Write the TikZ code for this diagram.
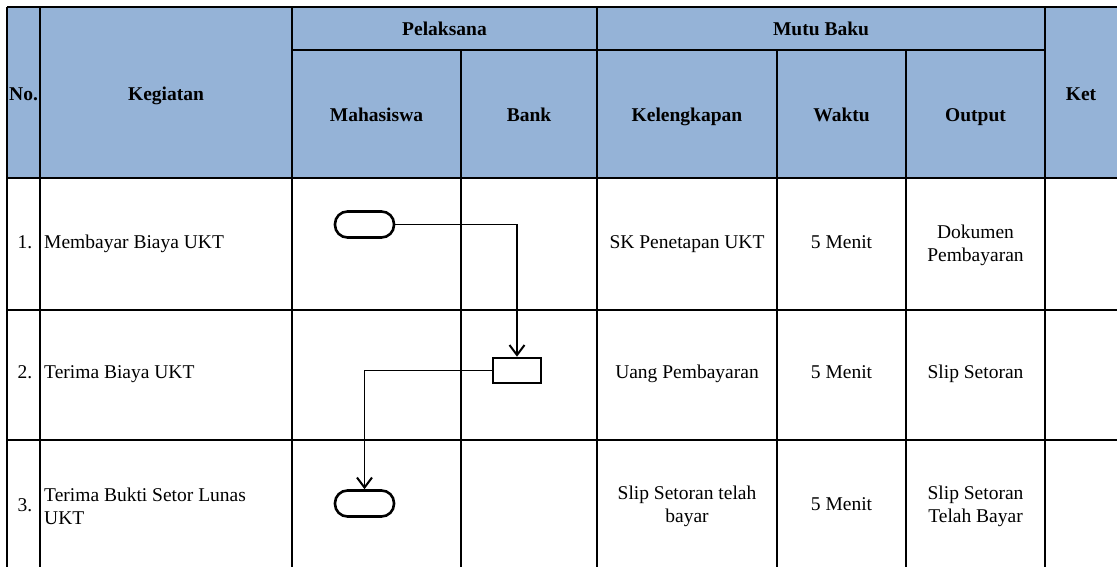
\documentclass[tikz,border=0pt]{standalone}
\usepackage{fontspec}
\setmainfont{Liberation Serif}
\usetikzlibrary{arrows.meta}
\definecolor{hdrblue}{RGB}{149,179,215}
\begin{document}
\begin{tikzpicture}[x=1pt,y=-1pt,
  grid/.style={line width=1.8pt,black},
  hdr/.style={font=\fontsize{19.5}{23}\selectfont\bfseries,align=center,inner sep=0pt,text height=13pt,text depth=4pt},
  txt/.style={font=\fontsize{19.5}{23}\selectfont,align=center,inner sep=0pt,text height=13pt,text depth=4pt},
  mtxt/.style={font=\fontsize{19.5}{23}\selectfont,align=center,inner sep=0pt},
  ltxt/.style={font=\fontsize{19.5}{23}\selectfont,align=left,anchor=west,inner sep=0pt,text height=13pt,text depth=4pt},
  mltxt/.style={font=\fontsize{19.5}{23}\selectfont,align=left,anchor=west,inner sep=0pt},
  term/.style={draw,line width=2.6pt,rounded corners=12.5pt,minimum width=59pt,minimum height=26pt,inner sep=0pt},
  proc/.style={draw,line width=2.6pt,minimum width=48pt,minimum height=25pt,inner sep=0pt},
  conn/.style={line width=1.3pt,-{Straight Barb[length=10pt,width=15pt,line width=2pt]}}]
\useasboundingbox (0,0) rectangle (1117,567);
% header fill
\fill[hdrblue] (7,7) rectangle (1117,178);
% horizontal lines
\draw[grid] (7,7) -- (1117,7);
\draw[grid] (292,50) -- (1045,50);
\draw[grid] (7,178) -- (1117,178);
\draw[grid] (7,310) -- (1117,310);
\draw[grid] (7,440) -- (1117,440);
% vertical lines
\foreach \x in {7,40,292,597,1045} \draw[grid] (\x,7) -- (\x,567);
\foreach \x in {461,777,906} \draw[grid] (\x,50) -- (\x,567);
% header texts
\node[hdr,anchor=west] (hno) at (9,96) {No.};
\node[hdr] (hkeg) at (166,96) {Kegiatan};
\node[hdr] (hpel) at (444.5,31) {Pelaksana};
\node[hdr] (hmutu) at (821,31) {Mutu Baku};
\node[hdr] (hmhs) at (376.5,117) {Mahasiswa};
\node[hdr] (hbank) at (529,117) {Bank};
\node[hdr] (hkel) at (687,117) {Kelengkapan};
\node[hdr] (hwak) at (841.5,117) {Waktu};
\node[hdr] (hout) at (975.5,117) {Output};
\node[hdr] (hket) at (1081,96) {Ket};
% row 1
\node[txt] (n1) at (25,244) {1.};
\node[ltxt] (k1) at (44,244) {Membayar Biaya UKT};
\node[txt] (kel1) at (687,244) {SK Penetapan UKT};
\node[txt] (w1) at (841.5,244) {5 Menit};
\node[mtxt] (o1) at (975.5,245) {Dokumen\\Pembayaran};
% row 2
\node[txt] (n2) at (25,374) {2.};
\node[ltxt] (k2) at (44,374) {Terima Biaya UKT};
\node[txt] (kel2) at (687,374) {Uang Pembayaran};
\node[txt] (w2) at (841.5,374) {5 Menit};
\node[txt] (o2) at (975.5,374) {Slip Setoran};
% row 3
\node[txt] (n3) at (25,507) {3.};
\node[mltxt] (k3) at (44,506) {Terima Bukti Setor Lunas\\UKT};
\node[mtxt] (kel3) at (687,506) {Slip Setoran telah\\bayar};
\node[txt] (w3) at (841.5,506) {5 Menit};
\node[mtxt] (o3) at (975.5,506) {Slip Setoran\\Telah Bayar};
% flow shapes
\node[term] (t1) at (364.5,224.5) {};
\node[proc] (p2) at (517,370.5) {};
\node[term] (t3) at (364.5,503.5) {};
\draw[conn] (t1.east) -| (p2.north);
\draw[conn] (p2.west) -| (t3.north);
\end{tikzpicture}
\end{document}
